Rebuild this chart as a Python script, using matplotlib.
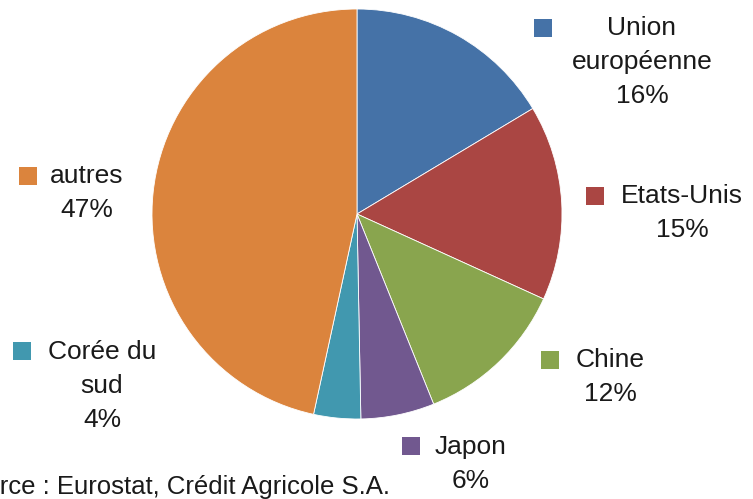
import matplotlib.pyplot as plt

# --- données (parts en %) ---
pays = ['Union\neuropéenne', 'Etats-Unis', 'Chine', 'Japon', 'Corée du\nsud', 'autres']
parts = [16.4, 15.4, 12.1, 5.8, 3.7, 46.6]
couleurs = ['#4572A7', '#AA4643', '#89A54E', '#71588F', '#4198AF', '#DB843D']

# position des étiquettes (pixels, origine en haut à gauche) : centre du texte, carré
pos_texte = [(642, 28), (682, 196), (610, 360), (471, 447), (102, 352), (87, 176)]
pos_carre = [(543, 28), (595, 196), (550, 360), (411, 446), (22, 351), (28, 176)]

W, H = 753, 499
plt.rcParams['font.family'] = ['Liberation Sans', 'DejaVu Sans']

fig = plt.figure(figsize=(W / 100, H / 100), dpi=100)
ax = fig.add_axes([0, 0, 1, 1])

ax.pie(parts, colors=couleurs, startangle=90, counterclock=False,
       center=(357, H - 214), radius=205, frame=True,
       wedgeprops=dict(edgecolor='white', linewidth=0.6))
ax.set_xlim(0, W)
ax.set_ylim(0, H)
ax.set_aspect('equal')
ax.set_axis_off()

fs = 19
ligne = 34
for nom, p, c, (tx, ty), (cx, cy) in zip(pays, parts, couleurs, pos_texte, pos_carre):
    # premiere ligne a cote du carre, le reste centre en dessous
    for i, l in enumerate(nom.split('\n') + [f'{p:.0f}%']):
        ax.text(tx, H - (ty + i * ligne), l, ha='center', va='center',
                fontsize=fs, color='#1a1a1a')
    ax.scatter([cx], [H - cy], marker='s', s=150, color=c, linewidths=0)

# la source est coupée à gauche dans l'original
ax.text(390, H - 487, 'Source : Eurostat, Crédit Agricole S.A.', ha='right',
        va='center', fontsize=18.5, color='#1a1a1a')

fig.savefig('out.png', dpi=100)
